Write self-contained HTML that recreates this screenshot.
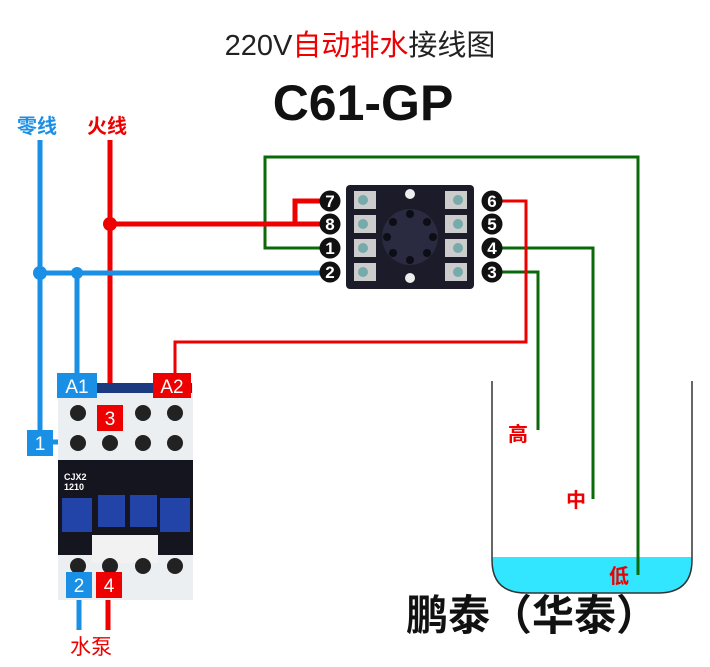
<!DOCTYPE html>
<html><head><meta charset="utf-8"><style>
html,body{margin:0;padding:0;background:#fff;width:710px;height:667px;overflow:hidden}
svg{display:block}
text{font-family:"Liberation Sans","Noto Sans CJK SC",sans-serif}
</style></head><body>
<svg width="710" height="667" viewBox="0 0 710 667" xmlns="http://www.w3.org/2000/svg">
<text x="360" y="55" font-size="29" text-anchor="middle" fill="#222">220V<tspan fill="#e00">自动排水</tspan>接线图</text>
<text x="363" y="120" font-size="50" font-weight="bold" text-anchor="middle" fill="#111">C61-GP</text>
<text x="17" y="133" font-size="20" font-weight="bold" fill="#1a8fe6">零线</text>
<text x="87" y="133" font-size="20" font-weight="bold" fill="#e00">火线</text>

<!-- tank -->
<path d="M492 557 L692 557 L692 560 Q692 593 658 593 L526 593 Q492 593 492 560Z" fill="#33e6ff"/>
<path d="M492 381 L492 560 Q492 593 526 593 L658 593 Q692 593 692 560 L692 381" fill="none" stroke="#333" stroke-width="1.5"/>

<!-- green wires -->
<g stroke="#0a6a0a" stroke-width="3" fill="none">
<path d="M320 248 L265 248 L265 157 L638 157 L638 575"/>
<path d="M500 248 L593 248 L593 499"/>
<path d="M500 272 L538 272 L538 430"/>
</g>
<!-- red wires -->
<g stroke="#e00" stroke-width="5" fill="none">
<path d="M110 140 L110 410"/>
<path d="M110 224 L320 224"/>
<path d="M295 224 L295 201 L320 201"/>
<path d="M108 570 L108 630"/>
</g>
<g stroke="#e00" stroke-width="3" fill="none">
<path d="M500 201 L526 201 L526 342 L175 342 L175 380"/>
</g>
<circle cx="110" cy="224" r="7" fill="#e00"/>
<!-- blue wires -->
<g stroke="#1a8fe6" stroke-width="5" fill="none">
<path d="M40 140 L40 442 L65 442"/>
<path d="M40 273 L320 273"/>
<path d="M77 273 L77 380"/>
<path d="M79 595 L79 630"/>
</g>
<circle cx="40" cy="273" r="7" fill="#1a8fe6"/>
<circle cx="77" cy="273" r="6" fill="#1a8fe6"/>

<!-- relay base -->
<rect x="346" y="185" width="128" height="104" rx="4" fill="#1b1b2a"/>
<circle cx="410" cy="237" r="28" fill="#2a2a40"/>
<g fill="#0d0d15"><circle cx="410" cy="214" r="4"/><circle cx="427" cy="222" r="4"/><circle cx="433" cy="237" r="4"/><circle cx="427" cy="253" r="4"/><circle cx="410" cy="260" r="4"/><circle cx="393" cy="253" r="4"/><circle cx="387" cy="237" r="4"/><circle cx="393" cy="222" r="4"/></g>
<circle cx="410" cy="194" r="5" fill="#eee"/><circle cx="410" cy="278" r="5" fill="#eee"/>
<g fill="#ccc"><rect x="354" y="191" width="22" height="18"/><rect x="354" y="215" width="22" height="18"/><rect x="354" y="239" width="22" height="18"/><rect x="354" y="263" width="22" height="18"/>
<rect x="445" y="191" width="22" height="18"/><rect x="445" y="215" width="22" height="18"/><rect x="445" y="239" width="22" height="18"/><rect x="445" y="263" width="22" height="18"/></g>
<g fill="#7aa" ><circle cx="363" cy="200" r="5"/><circle cx="363" cy="224" r="5"/><circle cx="363" cy="248" r="5"/><circle cx="363" cy="272" r="5"/><circle cx="458" cy="200" r="5"/><circle cx="458" cy="224" r="5"/><circle cx="458" cy="248" r="5"/><circle cx="458" cy="272" r="5"/></g>
<g font-size="17" font-weight="bold" text-anchor="middle" fill="#fff">
<circle cx="330" cy="201" r="10.5" fill="#111"/><text x="330" y="207">7</text>
<circle cx="330" cy="224" r="10.5" fill="#111"/><text x="330" y="230">8</text>
<circle cx="330" cy="248" r="10.5" fill="#111"/><text x="330" y="254">1</text>
<circle cx="330" cy="272" r="10.5" fill="#111"/><text x="330" y="278">2</text>
<circle cx="492" cy="201" r="10.5" fill="#111"/><text x="492" y="207">6</text>
<circle cx="492" cy="224" r="10.5" fill="#111"/><text x="492" y="230">5</text>
<circle cx="492" cy="248" r="10.5" fill="#111"/><text x="492" y="254">4</text>
<circle cx="492" cy="272" r="10.5" fill="#111"/><text x="492" y="278">3</text>
</g>

<!-- contactor -->
<rect x="58" y="385" width="135" height="80" fill="#eceff2"/>
<rect x="72" y="383" width="120" height="10" fill="#1c3a80"/>
<rect x="58" y="460" width="135" height="100" fill="#15151f"/>
<rect x="58" y="555" width="135" height="45" fill="#eceff2"/>
<rect x="92" y="535" width="66" height="28" fill="#f2f2f2"/>
<g fill="#2244a8"><rect x="62" y="498" width="30" height="34"/><rect x="98" y="495" width="27" height="32"/><rect x="130" y="495" width="27" height="32"/><rect x="160" y="498" width="30" height="34"/></g>
<text x="64" y="480" font-size="9" font-weight="bold" fill="#fff">CJX2</text>
<text x="64" y="490" font-size="9" font-weight="bold" fill="#fff">1210</text>
<g fill="#222"><circle cx="78" cy="413" r="8"/><circle cx="110" cy="413" r="8"/><circle cx="143" cy="413" r="8"/><circle cx="175" cy="413" r="8"/>
<circle cx="78" cy="443" r="8"/><circle cx="110" cy="443" r="8"/><circle cx="143" cy="443" r="8"/><circle cx="175" cy="443" r="8"/>
<circle cx="78" cy="566" r="8"/><circle cx="110" cy="566" r="8"/><circle cx="143" cy="566" r="8"/><circle cx="175" cy="566" r="8"/></g>

<!-- labels -->
<g font-size="19" text-anchor="middle" fill="#fff">
<rect x="57" y="373" width="40" height="25" fill="#1a8fe6"/><text x="77" y="393">A1</text>
<rect x="153" y="373" width="38" height="25" fill="#e00"/><text x="172" y="393">A2</text>
<rect x="97" y="405" width="26" height="26" fill="#e00"/><text x="110" y="425">3</text>
<rect x="27" y="430" width="26" height="26" fill="#1a8fe6"/><text x="40" y="450">1</text>
<rect x="66" y="572" width="26" height="26" fill="#1a8fe6"/><text x="79" y="592">2</text>
<rect x="96" y="572" width="26" height="26" fill="#e00"/><text x="109" y="592">4</text>
</g>
<text x="70" y="654" font-size="21" fill="#e00">水泵</text>
<g font-size="20" font-weight="bold" fill="#e00">
<text x="508" y="441">高</text><text x="566" y="507">中</text><text x="609" y="583">低</text></g>
<text x="406" y="630" font-size="42" font-weight="bold" fill="#111">鹏泰（华泰）</text>
</svg>
</body></html>
